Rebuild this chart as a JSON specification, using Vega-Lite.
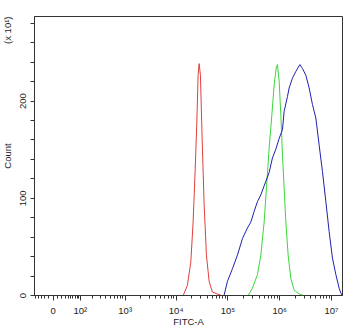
{
  "$schema": "https://vega.github.io/schema/vega-lite/v6.json",
  "autosize": "none",
  "width": 308,
  "height": 279,
  "padding": {"left": 34, "top": 16, "right": 8, "bottom": 33},
  "background": "white",
  "data": {
    "values": [
      {"series": "Control", "fitc": 14140, "count": 0},
      {"series": "Control", "fitc": 16898, "count": 10},
      {"series": "Control", "fitc": 19652, "count": 34},
      {"series": "Control", "fitc": 21777, "count": 75},
      {"series": "Control", "fitc": 23800, "count": 127},
      {"series": "Control", "fitc": 25680, "count": 178},
      {"series": "Control", "fitc": 27200, "count": 226},
      {"series": "Control", "fitc": 28450, "count": 238},
      {"series": "Control", "fitc": 30140, "count": 226},
      {"series": "Control", "fitc": 32510, "count": 162},
      {"series": "Control", "fitc": 35540, "count": 93},
      {"series": "Control", "fitc": 39370, "count": 41},
      {"series": "Control", "fitc": 44390, "count": 14},
      {"series": "Control", "fitc": 51410, "count": 3},
      {"series": "Control", "fitc": 64200, "count": 1},
      {"series": "Control", "fitc": 74720, "count": 0},

      {"series": "Isotype", "fitc": 254870, "count": 0},
      {"series": "Isotype", "fitc": 304510, "count": 7},
      {"series": "Isotype", "fitc": 380250, "count": 21},
      {"series": "Isotype", "fitc": 442340, "count": 41},
      {"series": "Isotype", "fitc": 512250, "count": 75},
      {"series": "Isotype", "fitc": 567460, "count": 110},
      {"series": "Isotype", "fitc": 639580, "count": 151},
      {"series": "Isotype", "fitc": 721180, "count": 185},
      {"series": "Isotype", "fitc": 798790, "count": 216},
      {"series": "Isotype", "fitc": 884720, "count": 235},
      {"series": "Isotype", "fitc": 924930, "count": 237},
      {"series": "Isotype", "fitc": 997990, "count": 220},
      {"series": "Isotype", "fitc": 1076270, "count": 185},
      {"series": "Isotype", "fitc": 1155660, "count": 144},
      {"series": "Isotype", "fitc": 1246310, "count": 110},
      {"series": "Isotype", "fitc": 1343930, "count": 75},
      {"series": "Isotype", "fitc": 1488860, "count": 41},
      {"series": "Isotype", "fitc": 1678410, "count": 17},
      {"series": "Isotype", "fitc": 1943520, "count": 5},
      {"series": "Isotype", "fitc": 2427600, "count": 1},
      {"series": "Isotype", "fitc": 2811760, "count": 0},

      {"series": "Antibody", "fitc": 86530, "count": 0},
      {"series": "Antibody", "fitc": 100170, "count": 14},
      {"series": "Antibody", "fitc": 125120, "count": 27},
      {"series": "Antibody", "fitc": 156270, "count": 41},
      {"series": "Antibody", "fitc": 195210, "count": 58},
      {"series": "Antibody", "fitc": 243820, "count": 69},
      {"series": "Antibody", "fitc": 283520, "count": 75},
      {"series": "Antibody", "fitc": 328360, "count": 86},
      {"series": "Antibody", "fitc": 380250, "count": 96},
      {"series": "Antibody", "fitc": 442340, "count": 103},
      {"series": "Antibody", "fitc": 552370, "count": 117},
      {"series": "Antibody", "fitc": 639580, "count": 126},
      {"series": "Antibody", "fitc": 740730, "count": 141},
      {"series": "Antibody", "fitc": 861600, "count": 150},
      {"series": "Antibody", "fitc": 997990, "count": 161},
      {"series": "Antibody", "fitc": 1155660, "count": 170},
      {"series": "Antibody", "fitc": 1246310, "count": 189},
      {"series": "Antibody", "fitc": 1443220, "count": 204},
      {"series": "Antibody", "fitc": 1556190, "count": 213},
      {"series": "Antibody", "fitc": 1802130, "count": 223},
      {"series": "Antibody", "fitc": 2096700, "count": 230},
      {"series": "Antibody", "fitc": 2504190, "count": 237},
      {"series": "Antibody", "fitc": 2811760, "count": 233},
      {"series": "Antibody", "fitc": 3269530, "count": 226},
      {"series": "Antibody", "fitc": 3786000, "count": 213},
      {"series": "Antibody", "fitc": 4384130, "count": 196},
      {"series": "Antibody", "fitc": 5100170, "count": 182},
      {"series": "Antibody", "fitc": 5907250, "count": 154},
      {"series": "Antibody", "fitc": 6838930, "count": 127},
      {"series": "Antibody", "fitc": 7957530, "count": 96},
      {"series": "Antibody", "fitc": 9212680, "count": 65},
      {"series": "Antibody", "fitc": 10664060, "count": 38},
      {"series": "Antibody", "fitc": 12410000, "count": 21},
      {"series": "Antibody", "fitc": 14367500, "count": 7},
      {"series": "Antibody", "fitc": 15495000, "count": 2},
      {"series": "Antibody", "fitc": 16200000, "count": 0}
    ]
  },
  "encoding": {
    "x": {
      "field": "fitc",
      "type": "quantitative",
      "scale": {"type": "symlog", "constant": 42.5, "domain": [-55, 16300000], "nice": false, "zero": false},
      "axis": {
        "title": "FITC-A",
        "values": [-50,-40,-30,-20,-10,0,10,20,30,40,50,60,70,80,90,100,200,300,400,500,600,700,800,900,1000,2000,3000,4000,5000,6000,7000,8000,9000,10000,20000,30000,40000,50000,60000,70000,80000,90000,100000,200000,300000,400000,500000,600000,700000,800000,900000,1000000,2000000,3000000,4000000,5000000,6000000,7000000,8000000,9000000,10000000],
        "labelExpr": "datum.value == 0 ? '0' : datum.value == 100 ? '10²' : datum.value == 1000 ? '10³' : datum.value == 10000 ? '10⁴' : datum.value == 100000 ? '10⁵' : datum.value == 1000000 ? '10⁶' : datum.value == 10000000 ? '10⁷' : ''",
        "labelOverlap": false,
        "labelFlush": false,
        "labelFontSize": 9.5,
        "labelPadding": 5,
        "titlePadding": 2,
        "tickSize": {"condition": {"test": "datum.value == 0 || datum.value == 100 || datum.value == 1000 || datum.value == 10000 || datum.value == 100000 || datum.value == 1000000 || datum.value == 10000000", "value": 5}, "value": 3}
      }
    },
    "y": {
      "field": "count",
      "type": "quantitative",
      "scale": {"domain": [0, 287], "nice": false},
      "axis": {
        "title": "Count",
        "values": [0,20,40,60,80,100,120,140,160,180,200,220,240,260,280],
        "labelExpr": "datum.value % 100 == 0 ? datum.label : ''",
        "labelAngle": 270,
        "labelOverlap": false,
        "labelFlush": false,
        "labelFontSize": 9.5,
        "tickSize": 4,
        "labelPadding": 3,
        "titlePadding": 5
      }
    },
    "color": {
      "field": "series",
      "type": "nominal",
      "scale": {"domain": ["Control", "Isotype", "Antibody"], "range": ["#e0403c", "#3ad83a", "#2020b0"]},
      "legend": null
    }
  },
  "layer": [
    {
      "mark": {"type": "line", "strokeWidth": 1, "interpolate": "linear"}
    },
    {
      "mark": {"type": "line", "opacity": 0},
      "encoding": {
        "y": {
          "field": "count",
          "type": "quantitative",
          "axis": {
            "orient": "left",
            "title": "(x 10¹)",
            "titleAnchor": "end",
            "values": [0,100,200],
            "labelAngle": 270,
            "labelFontSize": 9.5,
            "labelColor": "transparent",
            "ticks": false,
            "domain": false,
            "tickSize": 4,
            "labelPadding": 7,
            "titlePadding": 5
          }
        }
      }
    }
  ],
  "resolve": {"axis": {"y": "independent"}},
  "config": {
    "font": "Liberation Sans",
    "view": {"stroke": "#333", "strokeWidth": 1},
    "axis": {
      "grid": false,
      "domainColor": "#333",
      "tickColor": "#333",
      "labelColor": "#222",
      "titleColor": "#222",
      "labelFont": "Liberation Sans",
      "titleFont": "Liberation Sans",
      "labelFontSize": 9,
      "titleFontSize": 9.5,
      "titleFontWeight": "normal"
    }
  }
}
